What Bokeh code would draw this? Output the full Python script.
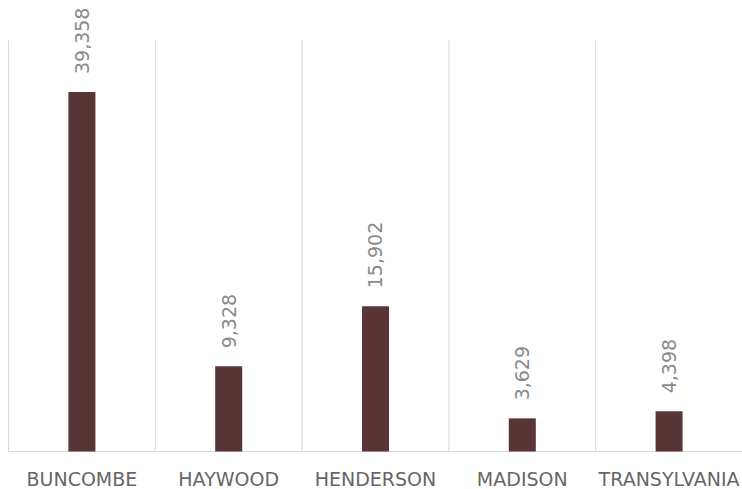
from bokeh.plotting import figure
from bokeh.models import ColumnDataSource, Range1d, LabelSet
from bokeh.core.properties import value
from bokeh.embed import file_html
from bokeh.resources import INLINE

counties = ["BUNCOMBE", "HAYWOOD", "HENDERSON", "MADISON", "TRANSYLVANIA"]
counts = [39358, 9328, 15902, 3629, 4398]
y_max = 45000

n = len(counties)
xs = [i + 0.5 for i in range(n)]
src = ColumnDataSource(dict(
    x=xs, top=counts, zero=[0] * n, name=counties,
    label=[f"{v:,}" for v in counts]))

# frame covers the whole canvas; value axis maps 0..y_max to pixels 451..40
W, H = 742, 489
top_px, base_px, left_px = 40, 451, 8
ppu_y = (base_px - top_px) / y_max
ppu_x = (W - left_px) / n
y_range = Range1d(-(H - base_px) / ppu_y, y_max + top_px / ppu_y)
x_range = Range1d(-left_px / ppu_x, n)

p = figure(width=W, height=H, output_backend="svg", toolbar_location=None,
           x_range=x_range, y_range=y_range,
           min_border=0, min_border_left=0, min_border_right=0,
           min_border_top=0, min_border_bottom=0)
p.outline_line_color = None
p.background_fill_color = "white"
p.border_fill_color = "white"
p.xaxis.visible = False
p.yaxis.visible = False
p.grid.visible = False

# category separators and baseline
seps = list(range(n + 1))
p.segment(x0=seps, x1=seps, y0=[0] * len(seps), y1=[y_max] * len(seps),
          line_color="#d9d9d9", line_width=1)
p.segment(x0=[0], x1=[n], y0=[0], y1=[0], line_color="#d9d9d9", line_width=1)

p.vbar(x="x", top="top", width=0.184, bottom=0, source=src,
       fill_color="#5a3535", line_color=None)

vals = LabelSet(x="x", y="top", text="label", source=src, angle=1.5708,
                text_align="left", text_baseline="middle", y_offset=18,
                text_font=value("DejaVu Sans"), text_font_size=value("19px"),
                text_color="#8a8a8a")
p.add_layout(vals)

cats = LabelSet(x="x", y="zero", text="name", source=src,
                text_align="center", text_baseline="middle", y_offset=-27,
                text_font=value("DejaVu Sans"), text_font_size=value("19px"),
                text_color="#666666")
p.add_layout(cats)

open("out.html", "w").write(file_html(p, INLINE))
